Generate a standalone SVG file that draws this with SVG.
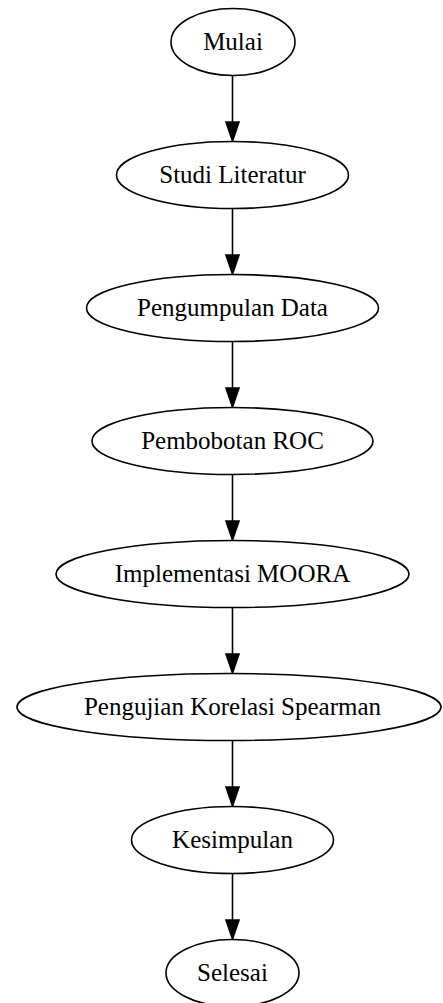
<svg xmlns="http://www.w3.org/2000/svg" width="443" height="1003" viewBox="0 0 443 1003">
<defs>
<style>
.n ellipse{fill:#fff;stroke:#000;stroke-width:1.6}
.n text{font-family:"Liberation Serif","Times New Roman",serif;font-size:25px;fill:#000;text-anchor:middle}
.e line{stroke:#000;stroke-width:1.6}
.e polygon{fill:#000;stroke:#000;stroke-width:1.6}
</style>
</defs>
<rect width="443" height="1003" fill="#fff"/>
<g id="connectors" class="e">
<line x1="232.5" y1="75.5" x2="232.5" y2="122"/><polygon points="226,122 239,122 232.5,141"/>
<line x1="232.5" y1="208.5" x2="232.5" y2="255"/><polygon points="226,255 239,255 232.5,274"/>
<line x1="232.5" y1="341.5" x2="232.5" y2="388"/><polygon points="226,388 239,388 232.5,407"/>
<line x1="232.5" y1="474.5" x2="232.5" y2="521"/><polygon points="226,521 239,521 232.5,540"/>
<line x1="232.5" y1="607.5" x2="232.5" y2="654"/><polygon points="226,654 239,654 232.5,673"/>
<line x1="232.5" y1="740.5" x2="232.5" y2="787"/><polygon points="226,787 239,787 232.5,806"/>
<line x1="232.5" y1="873.5" x2="232.5" y2="920"/><polygon points="226,920 239,920 232.5,939"/>
</g>
<g id="mulai" class="n"><ellipse cx="233" cy="42" rx="62" ry="33.5"/><text x="233" y="50">Mulai</text></g>
<g id="studi" class="n"><ellipse cx="232.5" cy="175" rx="116" ry="33.5"/><text x="232.5" y="183">Studi Literatur</text></g>
<g id="pengumpulan" class="n"><ellipse cx="232.5" cy="308" rx="146" ry="33.5"/><text x="232.5" y="316">Pengumpulan Data</text></g>
<g id="pembobotan" class="n"><ellipse cx="232.5" cy="441" rx="140.5" ry="33.5"/><text x="232.5" y="449">Pembobotan ROC</text></g>
<g id="moora" class="n"><ellipse cx="232.5" cy="574" rx="176.5" ry="33.5"/><text x="232.5" y="582">Implementasi MOORA</text></g>
<g id="spearman" class="n"><ellipse cx="229" cy="707" rx="212" ry="33.5"/><text x="232.5" y="715">Pengujian Korelasi Spearman</text></g>
<g id="kesimpulan" class="n"><ellipse cx="232.5" cy="840" rx="101" ry="33.5"/><text x="232.5" y="848">Kesimpulan</text></g>
<g id="selesai" class="n"><ellipse cx="232.5" cy="973" rx="66.5" ry="33.5"/><text x="232.5" y="981">Selesai</text></g>
</svg>
